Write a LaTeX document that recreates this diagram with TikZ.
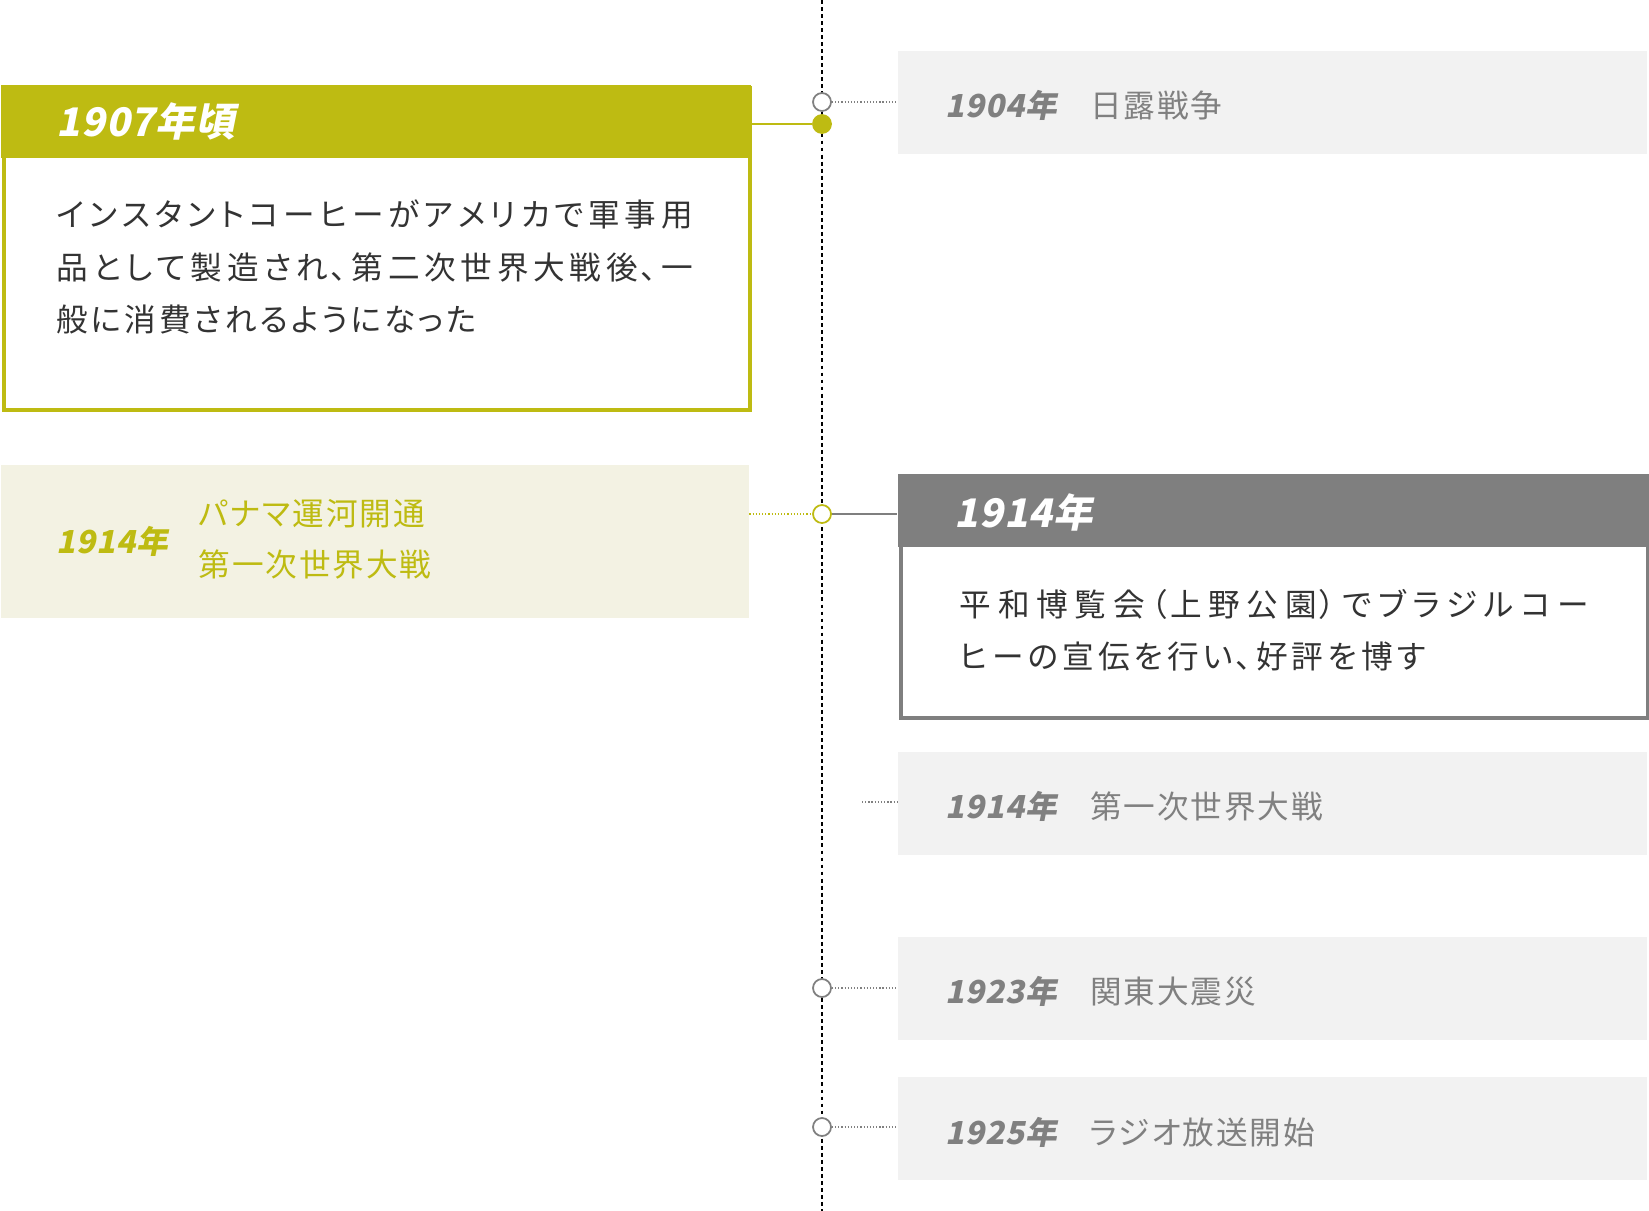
\documentclass[tikz,border=0pt]{standalone}
\usepackage{fontspec}
\setmainfont{Noto Sans CJK JP}[LetterSpace=9, RawFeature=+palt]
\newfontfamily\yearfont{Noto Sans CJK JP}[FakeSlant=0.2, LetterSpace=2]
\usepackage{tikz}
\XeTeXlinebreaklocale "ja"
\XeTeXlinebreakskip=0.85pt plus 2pt

\definecolor{tlolive}{HTML}{BEBB12}
\definecolor{paleolive}{HTML}{F3F2E3}
\definecolor{boxgray}{HTML}{F2F2F2}
\definecolor{headgray}{HTML}{7F7F7F}
\definecolor{textgray}{HTML}{808080}
\definecolor{inkdark}{HTML}{333333}

\newcommand{\yr}{\yearfont\bfseries}

\tikzset{
  spine/.style={line width=0.6pt, dash pattern=on 1.1pt off 0.9pt},
  dotline/.style={line width=0.35pt, dash pattern=on 0.35pt off 0.55pt},
  ring/.style={circle, draw=textgray, line width=0.5pt, fill=white, minimum size=1.8mm, inner sep=0pt},
  evbox/.style={anchor=north west, fill=boxgray, minimum width=74.9mm, minimum height=10.3mm, inner sep=0pt},
  evtext/.style={anchor=west, inner sep=0pt, text=textgray, font=\fontsize{9pt}{12pt}\selectfont\addfontfeatures{LetterSpace=6}},
  headbox/.style={anchor=north west, minimum height=7.3mm, inner sep=0pt},
  framebox/.style={anchor=north west, line width=0.4mm, fill=white, inner sep=0pt},
  headtext/.style={anchor=west, inner sep=0pt, text=white, font=\fontsize{11.2pt}{14pt}\selectfont\yr},
  bodytext/.style={anchor=north west, inner sep=0pt, align=justify, text=inkdark}
}

\begin{document}
\begin{tikzpicture}[x=0.1mm, y=-0.1mm]
  \useasboundingbox (0,0) rectangle (1649,1211);
  \coordinate (top) at (822,0);
  \coordinate (bottom) at (822,1211);
  \draw[spine] (top) -- (bottom);

  \node[evbox] (e1904) at (897,50) {};
  \node[evbox] (e1914) at (897,751) {};
  \node[evbox] (e1923) at (897,936) {};
  \node[evbox] (e1925) at (897,1076) {};
  \node[evbox, fill=paleolive, minimum width=74.8mm, minimum height=15.3mm] (ePanama) at (0,464) {};

  \node[framebox, draw=tlolive, minimum width=74.6mm, minimum height=32.2mm] (b1907) at (2,86) {};
  \node[headbox, fill=tlolive, minimum width=75mm] (h1907) at (0,84) {};
  \node[framebox, draw=headgray, minimum width=74.7mm, minimum height=24.1mm] (b1914) at (899,475) {};
  \node[headbox, fill=headgray, minimum width=75.1mm] (h1914) at (897,473) {};

  \node[headtext] (y1907) at (56,121) {1907年頃};
  \node[bodytext, text width=63.6mm, font=\fontsize{9pt}{15pt}\selectfont] (d1907) at (56,199)
    {インスタントコーヒーがアメリカで軍事用\linebreak 品として製造され、第二次世界大戦後、一\linebreak 般に消費されるようになった};
  \node[headtext] (y1914) at (954,512) {1914年};
  \node[bodytext, text width=62.9mm, font=\fontsize{9pt}{14.8pt}\selectfont] (d1914) at (959,589)
    {\XeTeXlinebreakskip=1.2pt plus 2pt 平和博覧会（上野公園）でブラジルコー\linebreak ヒーの宣伝を行い、好評を博す};

  \node[evtext] (t1904) at (945,105) {{\yr 1904年}\hspace{1.05em}日露戦争};
  \node[evtext] (t1914) at (945,806) {{\yr 1914年}\hspace{1.05em}第一次世界大戦};
  \node[evtext] (t1923) at (945,991) {{\yr 1923年}\hspace{1.05em}関東大震災};
  \node[evtext] (t1925) at (945,1132) {{\yr 1925年}\hspace{1.05em}ラジオ放送開始};
  \node[evtext, text=tlolive] (yPanama) at (56,541) {\yr 1914年};
  \node[bodytext, align=left, text=tlolive, font=\fontsize{9pt}{14.4pt}\selectfont\addfontfeatures{LetterSpace=6}] (dPanama) at (198,499)
    {パナマ運河開通\\第一次世界大戦};

  \node[ring] (c1904) at (822,102) {};
  \node[ring, fill=tlolive, draw=tlolive] (c1907) at (822,124) {};
  \node[ring, draw=tlolive] (c1914) at (822,514) {};
  \node[ring] (c1923) at (822,988) {};
  \node[ring] (c1925) at (822,1127) {};
  \coordinate (s1914) at (862,802);

  \draw[dotline, textgray] (c1904) -- (c1904 -| e1904.west);
  \draw[tlolive, line width=0.6pt] (h1907.east |- c1907) -- (c1907);
  \draw[dotline, tlolive] (ePanama.east |- c1914) -- (c1914);
  \draw[headgray, line width=0.5pt] (c1914) -- (c1914 -| h1914.west);
  \draw[dotline, textgray] (s1914) -- (s1914 -| e1914.west);
  \draw[dotline, textgray] (c1923) -- (c1923 -| e1923.west);
  \draw[dotline, textgray] (c1925) -- (c1925 -| e1925.west);
\end{tikzpicture}
\end{document}
